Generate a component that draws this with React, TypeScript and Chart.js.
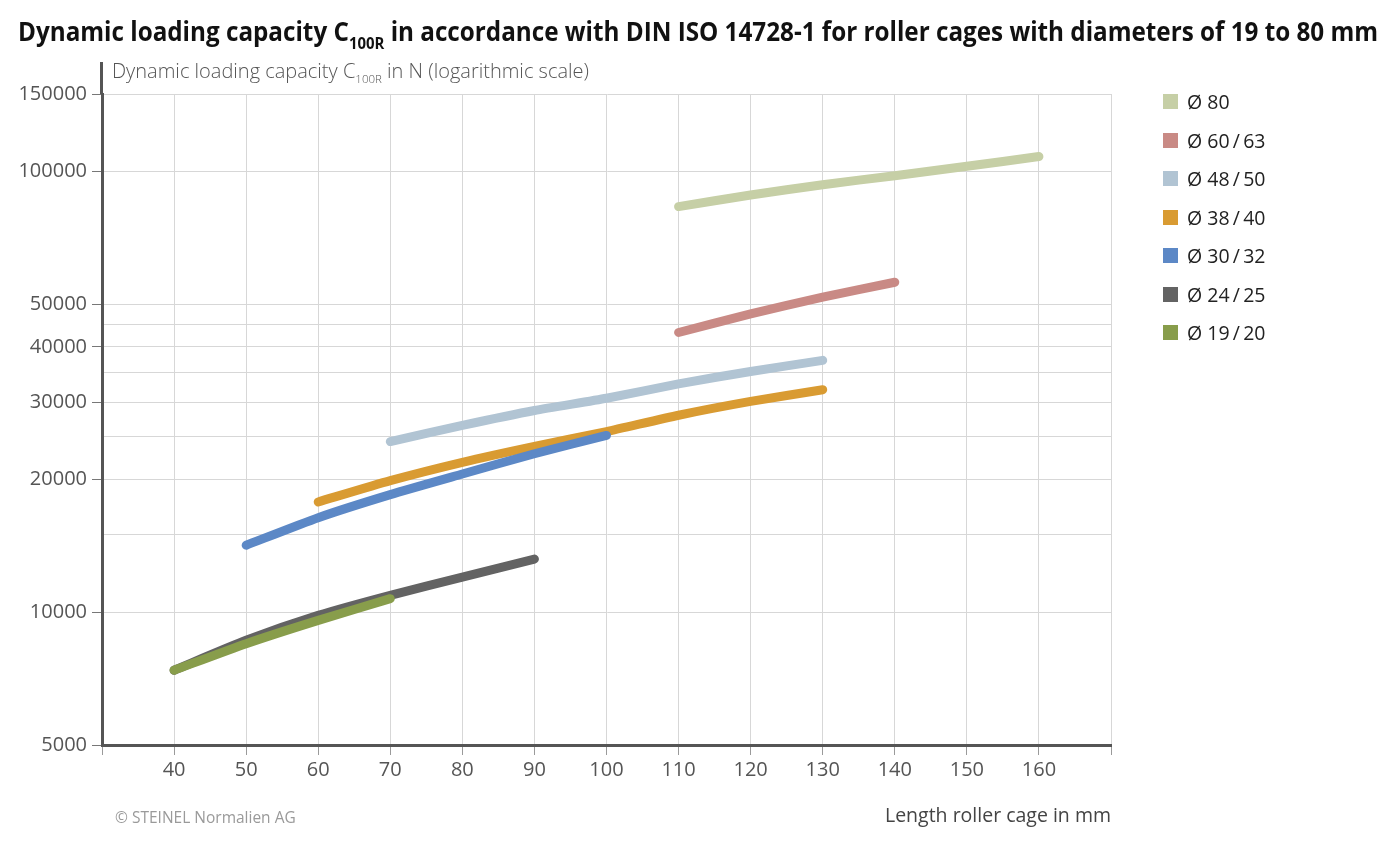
import React, { useEffect, useLayoutEffect, useRef } from 'react';
import { Chart, registerables } from 'chart.js';

Chart.register(...registerables);

// ---- data ----
const labels = ['Ø 80', 'Ø 60\u2009/\u200963', 'Ø 48\u2009/\u200950', 'Ø 38\u2009/\u200940', 'Ø 30\u2009/\u200932', 'Ø 24\u2009/\u200925', 'Ø 19\u2009/\u200920'];
const colors = ['#c6cfa6', '#c98a85', '#b1c4d3', '#d99b32', '#5c88c6', '#636363', '#889d4b'];

const x80 = [110, 120, 130, 140, 150, 160];
const y80 = [83300, 88500, 93400, 97900, 102800, 108200];
const x6063 = [110, 120, 130, 140];
const y6063 = [43150, 47570, 51880, 56100];
const x4850 = [70, 80, 90, 100, 110, 120, 130];
const y4850 = [24400, 26550, 28700, 30600, 33000, 35200, 37300];
const x3840 = [60, 70, 80, 90, 100, 110, 120, 130];
const y3840 = [17800, 19900, 21900, 23800, 25700, 28000, 30100, 32000];
const x3032 = [50, 60, 70, 80, 90, 100];
const y3032 = [14200, 16400, 18500, 20600, 22900, 25200];
const x2425 = [40, 50, 60, 70, 80, 90];
const y2425 = [7390, 8640, 9840, 10930, 12020, 13210];
const x1920 = [40, 50, 60, 70];
const y1920 = [7390, 8490, 9590, 10740];

const xsList = [x80, x6063, x4850, x3840, x3032, x2425, x1920];
const ysList = [y80, y6063, y4850, y3840, y3032, y2425, y1920];

const xTicks = [30, 40, 50, 60, 70, 80, 90, 100, 110, 120, 130, 140, 150, 160, 170];
const xLabelled = [40, 50, 60, 70, 80, 90, 100, 110, 120, 130, 140, 150, 160];
const yGrid = [5000, 10000, 15000, 20000, 25000, 30000, 35000, 40000, 45000, 50000, 100000, 150000];
const yLabelled = [5000, 10000, 20000, 30000, 40000, 50000, 100000, 150000];

const FONT = '"Open Sans", "Noto Sans", sans-serif';

const axisExtend = {
  id: 'axisExtend',
  afterDraw(chart: any) {
    const { ctx, chartArea } = chart;
    ctx.save();
    ctx.strokeStyle = '#555';
    ctx.lineWidth = 3;
    ctx.beginPath();
    ctx.moveTo(chartArea.left - 0.5, chartArea.top);
    ctx.lineTo(chartArea.left - 0.5, chartArea.top - 32);
    ctx.stroke();
    ctx.restore();
  },
};

export default function App() {
  const canvasRef = useRef<HTMLCanvasElement | null>(null);
  const titleRef = useRef<HTMLDivElement | null>(null);

  useLayoutEffect(() => {
    const el = titleRef.current;
    if (el) {
      el.style.transform = 'none';
      const w = el.scrollWidth;
      if (w > 0) el.style.transform = `scaleX(${1360 / w})`;
    }
  }, []);

  useEffect(() => {
    if (!canvasRef.current) return;
    // draw order: last legend entry on top
    const order = [6, 5, 4, 3, 2, 1, 0];
    const datasets = order.map((i) => ({
      label: labels[i],
      data: xsList[i].map((x, k) => ({ x, y: ysList[i][k] })),
      borderColor: colors[i],
      backgroundColor: colors[i],
      borderWidth: 9,
      pointRadius: 0,
      borderCapStyle: 'round' as const,
      borderJoinStyle: 'round' as const,
      tension: 0.2,
      fill: false,
    }));
    const chart = new Chart(canvasRef.current, {
      type: 'line',
      data: { datasets },
      options: {
        animation: false,
        responsive: false,
        devicePixelRatio: 1,
        layout: { padding: { left: 0, top: 94, right: 289, bottom: 0 } },
        plugins: { legend: { display: false }, tooltip: { enabled: false }, title: { display: false } },
        scales: {
          x: {
            type: 'linear',
            min: 30,
            max: 170,
            afterBuildTicks: (s: any) => {
              s.ticks = xTicks.map((v) => ({ value: v }));
            },
            afterFit: (s: any) => {
              s.height = 99;
            },
            ticks: {
              autoSkip: false,
              maxRotation: 0,
              padding: 3,
              color: '#555',
              font: { family: FONT, size: 20 },
              callback: (v: any) => (xLabelled.includes(Number(v)) ? String(v) : ''),
            },
            grid: { color: '#d7d7d7', lineWidth: 1, tickLength: 10, tickColor: '#9a9a9a' },
            border: { color: '#555', width: 3 },
          },
          y: {
            type: 'logarithmic',
            min: 5000,
            max: 150000,
            afterBuildTicks: (s: any) => {
              s.ticks = yGrid.map((v) => ({ value: v }));
            },
            afterFit: (s: any) => {
              s.width = 102;
            },
            ticks: {
              autoSkip: false,
              padding: 5,
              color: '#555',
              font: { family: FONT, size: 20 },
              callback: (v: any) => (yLabelled.includes(Number(v)) ? String(v) : ''),
            },
            grid: {
              color: '#d7d7d7',
              lineWidth: 1,
              tickLength: 10,
              tickColor: (c: any) => (c.tick && yLabelled.includes(c.tick.value) ? '#777' : 'rgba(0,0,0,0)'),
            },
            border: { color: '#555', width: 3 },
          },
        },
      },
      plugins: [axisExtend],
    } as any);
    return () => chart.destroy();
  }, []);

  return (
    <div style={{ position: 'fixed', left: 0, top: 0, width: 1400, height: 844, background: '#fff', overflow: 'hidden', fontFamily: FONT }}>
      <canvas ref={canvasRef} width={1400} height={844} style={{ position: 'absolute', left: 0, top: 0, width: 1400, height: 844 }} />
      <div
        ref={titleRef}
        style={{
          position: 'absolute', left: 18, top: 14, whiteSpace: 'nowrap', transformOrigin: 'left top',
          fontFamily: '"Open Sans", sans-serif', fontWeight: 700, fontSize: 26, color: '#111', lineHeight: '34px',
        }}
      >
        Dynamic loading capacity C<span style={{ fontSize: 16, position: 'relative', top: 8 }}>100R</span> in accordance with DIN ISO 14728-1 for roller cages with diameters of 19 to 80 mm
      </div>
      <div style={{ position: 'absolute', left: 112, top: 58, whiteSpace: 'nowrap', fontSize: 20, fontWeight: 300, color: '#555', lineHeight: '26px' }}>
        Dynamic loading capacity C<span style={{ fontSize: 11.5, position: 'relative', top: 5 }}>100R</span> in N (logarithmic scale)
      </div>
      <div style={{ position: 'absolute', right: 1400 - 1111, top: 801, whiteSpace: 'nowrap', fontSize: 19.5, color: '#444', lineHeight: '28px' }}>
        Length roller cage in mm
      </div>
      <div style={{ position: 'absolute', left: 115, top: 806, whiteSpace: 'nowrap', fontSize: 15.5, color: '#9a9a9a', lineHeight: '22px' }}>
        © STEINEL Normalien AG
      </div>
      {labels.map((l, i) => (
        <div key={l} style={{ position: 'absolute', left: 1163, top: 101.5 + i * 38.5 - 14, height: 28, display: 'flex', alignItems: 'center', whiteSpace: 'nowrap' }}>
          <span style={{ display: 'inline-block', width: 15, height: 15, background: colors[i], marginRight: 9 }} />
          <span style={{ fontSize: 19.5, color: '#222' }}>{l}</span>
        </div>
      ))}
    </div>
  );
}
